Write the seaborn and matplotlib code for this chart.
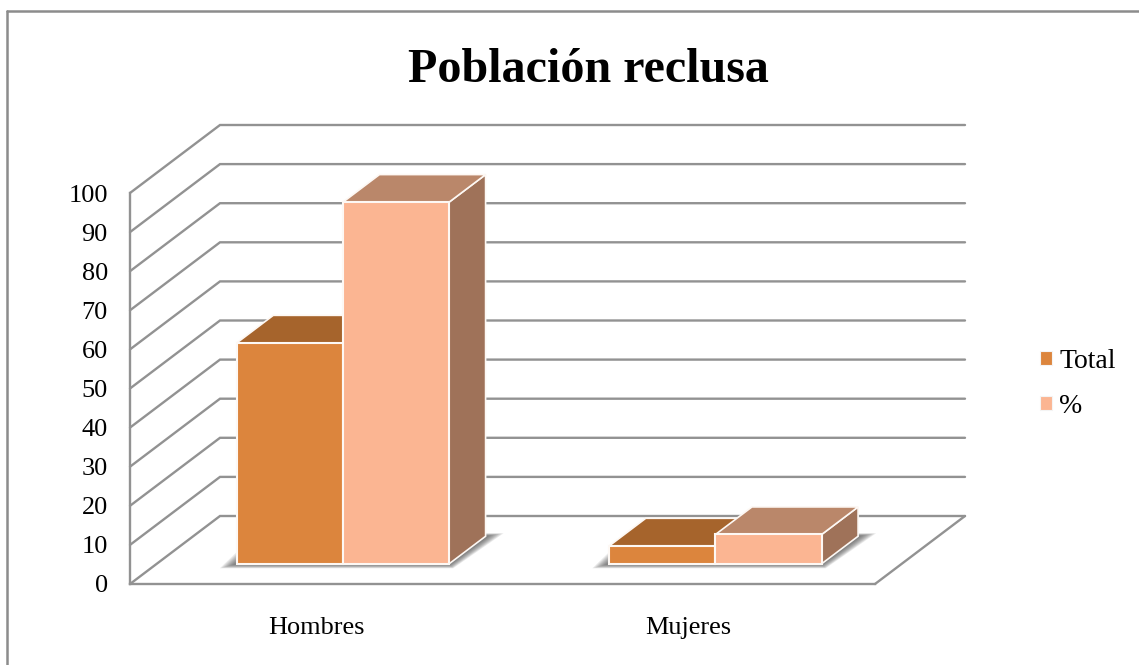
import numpy as np
import pandas as pd
import matplotlib
matplotlib.use("Agg")
import matplotlib.pyplot as plt
from matplotlib.lines import Line2D
from matplotlib.patches import Polygon
from matplotlib.transforms import Affine2D, IdentityTransform
import seaborn as sns

categories = ["Hombres", "Mujeres"]
series_names = ["Total", "%"]
total_values = [56.5, 4.6]
percent_values = [92.5, 7.5]
y_ticks = [0, 10, 20, 30, 40, 50, 60, 70, 80, 90, 100]
title = "Población reclusa"

front_colors = ["#DC853D", "#FBB592"]
top_colors = ["#A6642C", "#BA876A"]
side_colors = ["#A6642C", "#9F7259"]
line_color = "#929292"

W, H = 1139, 665
DEPTH_X, DEPTH_Y = 90.0, 68.0      # oblique projection of the full chart depth (px)
BAR_START, BAR_DEPTH = 0.297, 0.405 # bar footprint as a fraction of the depth

sns.set_theme(style="white")
plt.rcParams["font.family"] = ["Liberation Serif", "DejaVu Serif"]
FS = 18.9

df = pd.DataFrame({
    "categoria": categories * 2,
    "serie": [series_names[0]] * 2 + [series_names[1]] * 2,
    "valor": total_values + percent_values,
})

fig = plt.figure(figsize=(W / 100, H / 100), dpi=100, facecolor="white")
ax = fig.add_axes([130 / W, (H - 584) / H, 745 / W, 391 / H])
ax.set_facecolor("none")

sns.barplot(data=df, x="categoria", y="valor", hue="serie", hue_order=series_names,
            palette=front_colors, saturation=1, width=0.57, gap=0, dodge=True,
            edgecolor="#FDF8F4", linewidth=1.5, ax=ax, zorder=5)

ax.set_xlim(-0.5, 1.5)
ax.set_ylim(0, 100)
ax.set_yticks(y_ticks)
ax.set_xlabel("")
ax.set_ylabel("")
ax.tick_params(axis="y", length=0, pad=16, labelsize=FS, colors="black")
ax.tick_params(axis="x", length=0, pad=24, labelsize=FS, colors="black")
for s in ("top", "right"):
    ax.spines[s].set_visible(False)
for s in ("left", "bottom"):
    ax.spines[s].set_color(line_color)
    ax.spines[s].set_linewidth(1.7)


def project(x, y, depth=0.0):
    """Data coordinates + fraction of chart depth -> display pixels."""
    px, py = ax.transData.transform((x, y))
    return px + DEPTH_X * depth, py + DEPTH_Y * depth


# Walls and floor: gridlines run along the left wall, then across the back wall
x0, x1 = ax.get_xlim()
for v in y_ticks:
    pts = [project(x0, v, 0), project(x0, v, 1), project(x1, v, 1)]
    ax.add_line(Line2D(*zip(*pts), transform=IdentityTransform(), color=line_color,
                       lw=1.7, clip_on=False, zorder=1, solid_joinstyle="miter"))
pts = [project(x1, 0, 0), project(x1, 0, 1)]
ax.add_line(Line2D(*zip(*pts), transform=IdentityTransform(), color=line_color,
                   lw=1.7, clip_on=False, zorder=1))

# Bars: push the fronts back to their depth, then add the top and side faces
shift = Affine2D().translate(DEPTH_X * BAR_START, DEPTH_Y * BAR_START)
containers = list(ax.containers)
n_cat = len(categories)
for serie, container in enumerate(containers):
    for bar in container:
        bar.set_transform(ax.transData + shift)
        bar.set_clip_on(False)
        xa, xb = bar.get_x(), bar.get_x() + bar.get_width()
        h = bar.get_height()
        d0, d1 = BAR_START, BAR_START + BAR_DEPTH
        top = [project(xa, h, d0), project(xb, h, d0), project(xb, h, d1), project(xa, h, d1)]
        side = [project(xb, 0, d0), project(xb, h, d0), project(xb, h, d1), project(xb, 0, d1)]
        order = 5 + serie * 2
        ax.add_patch(Polygon(side, closed=True, facecolor=side_colors[serie], edgecolor="#FDF8F4",
                             lw=1.2, transform=IdentityTransform(), clip_on=False, zorder=order - 0.6))
        ax.add_patch(Polygon(top, closed=True, facecolor=top_colors[serie], edgecolor="#FDF8F4",
                             lw=1.2, transform=IdentityTransform(), clip_on=False, zorder=order - 0.5))
        bar.set_zorder(order)

# Soft floor shadow below each bar group
for c in range(n_cat):
    first, last = containers[0][c], containers[-1][c]
    xa = first.get_x()
    xb = last.get_x() + last.get_width()
    d0, d1 = BAR_START, BAR_START + BAR_DEPTH
    fl, fr = project(xa, 0, d0), project(xb, 0, d0)
    br, bl = project(xb, 0, d1), project(xa, 0, d1)
    for t in np.linspace(1.0, 0.1, 10):
        poly = [(fl[0] - 17 * t, fl[1] - 4.5 * t), (fr[0] + 4 * t, fr[1] - 4.5 * t),
                (br[0] + 18 * t, br[1] + 3 * t), (bl[0] - 17 * t, bl[1] + 3 * t)]
        ax.add_patch(Polygon(poly, closed=True, facecolor="#444444", edgecolor="none", alpha=0.11,
                             transform=IdentityTransform(), clip_on=False, zorder=2))

# Title
fig.text(588 / W, (H - 82) / H, title, ha="center", va="baseline",
         fontsize=34.6, fontweight="bold", color="black")

# Legend
sns.move_legend(ax, loc="center left", bbox_to_anchor=(1040 / W, (H - 384) / H),
                bbox_transform=fig.transFigure, frameon=False, title=None, fontsize=20,
                labelcolor="black", handlelength=0.42, handleheight=0.42, handletextpad=0.28,
                labelspacing=0.72, borderpad=0, borderaxespad=0)
for handle in ax.get_legend().get_patches():
    handle.set_edgecolor("#F4F4F4")
    handle.set_linewidth(0.8)

# Chart frame: only the top and left edges fall inside the picture
for xs, ys in (((7, 7), (0, H - 11)), ((7, W), (H - 11, H - 11))):
    fig.add_artist(Line2D([x / W for x in xs], [y / H for y in ys], color="#8C8C8C", lw=1.8,
                          transform=fig.transFigure, solid_joinstyle="miter"))

fig.savefig("out.png", dpi=100, facecolor="white")
